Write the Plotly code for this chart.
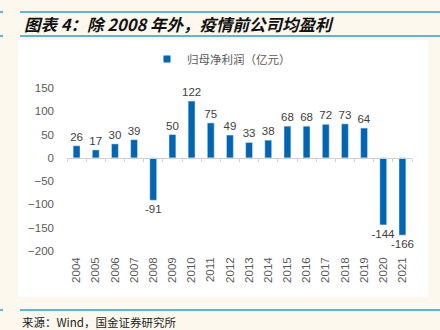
import plotly.graph_objects as go

years = [str(y) for y in range(2004, 2022)]
profit = [26, 17, 30, 39, -91, 50, 122, 75, 49, 33, 38, 68, 68, 72, 73, 64, -144, -166]
y_ticks = [150, 100, 50, 0, -50, -100, -150, -200]
series_name = "归母净利润（亿元）"
title_text = "图表 4：除 2008 年外，疫情前公司均盈利"
source_text = "来源：Wind，国金证券研究所"

W, H = 440, 330
L, R, T, B = 67, 28, 88, 79
pw, ph = W - L - R, H - T - B


def px(x):
    return (x - L) / pw


def py(y):
    return (H - B - y) / ph


FONT = "Liberation Sans, Arial, Noto Sans CJK SC, sans-serif"
CJK = "Noto Sans CJK SC, Liberation Sans, sans-serif"
BLUE = "#0066B3"
LINE = "#2E9BDA"

fig = go.Figure()
fig.add_trace(go.Bar(
    x=years, y=profit, name=series_name, marker_color=BLUE,
    text=[str(v) for v in profit], textposition="outside", constraintext="none",
    textfont=dict(size=11.5, color="#404040", family=FONT),
    cliponaxis=False, showlegend=False,
))
fig.add_trace(go.Scatter(x=[None], y=[None], mode="markers", name=series_name,
                         marker=dict(symbol="square", size=7, color=BLUE), showlegend=True))
fig.add_trace(go.Scatter(x=years, y=[0] * len(years), xaxis="x2", mode="none",
                         showlegend=False, hoverinfo="skip"))

ymin, ymax = -200, 150
zero_frac = (0 - ymin) / (ymax - ymin)

fig.update_layout(
    width=W, height=H,
    margin=dict(l=L, r=R, t=T, b=B),
    paper_bgcolor="#FCF8EE", plot_bgcolor="white",
    bargap=0.64,
    font=dict(family=FONT, color="#595959", size=11),
    xaxis=dict(type="category", tickangle=-90, showline=False, ticks="",
               showgrid=False, tickfont=dict(size=11.5, color="#595959"),
               ticklabelstandoff=3),
    xaxis2=dict(type="category", overlaying="x", matches="x", anchor="free",
                position=zero_frac, showline=True, linecolor="#D0D0D0", linewidth=1,
                ticks="outside", ticklen=3, tickcolor="#D0D0D0", tickson="boundaries",
                showticklabels=False, showgrid=False, side="bottom"),
    yaxis=dict(range=[ymin, ymax], tickvals=y_ticks, showgrid=False, zeroline=False,
               showline=False, ticks="", ticklabelstandoff=12,
               tickfont=dict(size=11.5, color="#595959")),
    legend=dict(orientation="h", x=px(147), y=py(59), xanchor="left", yanchor="middle",
                bgcolor="rgba(0,0,0,0)", font=dict(size=11.5, color="#595959", family=CJK),
                itemwidth=30, itemsizing="trace"),
    shapes=[
        dict(type="rect", xref="paper", yref="paper", x0=px(18), x1=px(428), y0=py(297), y1=py(40),
             fillcolor="white", line=dict(width=0), layer="below"),
        dict(type="line", xref="paper", yref="paper", x0=px(20), x1=px(440), y0=py(12), y1=py(12),
             line=dict(color=LINE, width=1.5)),
        dict(type="line", xref="paper", yref="paper", x0=px(20), x1=px(440), y0=py(36), y1=py(36),
             line=dict(color=LINE, width=1.5)),
        dict(type="line", xref="paper", yref="paper", x0=px(0), x1=px(3), y0=py(12), y1=py(12),
             line=dict(color=LINE, width=1.5)),
        dict(type="line", xref="paper", yref="paper", x0=px(0), x1=px(3), y0=py(36), y1=py(36),
             line=dict(color=LINE, width=1.5)),
        dict(type="line", xref="paper", yref="paper", x0=px(20), x1=px(440), y0=py(310), y1=py(310),
             line=dict(color=LINE, width=1.5)),
        dict(type="line", xref="paper", yref="paper", x0=px(0), x1=px(3), y0=py(310), y1=py(310),
             line=dict(color=LINE, width=1.5)),
    ],
    annotations=[
        dict(text="<b><i>" + title_text + "</i></b>", xref="paper", yref="paper",
             x=px(22), y=py(24), xanchor="left", yanchor="middle", showarrow=False,
             font=dict(size=16.5, color="#111111", family=CJK)),
        dict(text=source_text, xref="paper", yref="paper",
             x=px(20), y=py(322), xanchor="left", yanchor="middle", showarrow=False,
             font=dict(size=11.5, color="#222222", family=CJK)),
    ],
)

fig.write_html("out.html")
